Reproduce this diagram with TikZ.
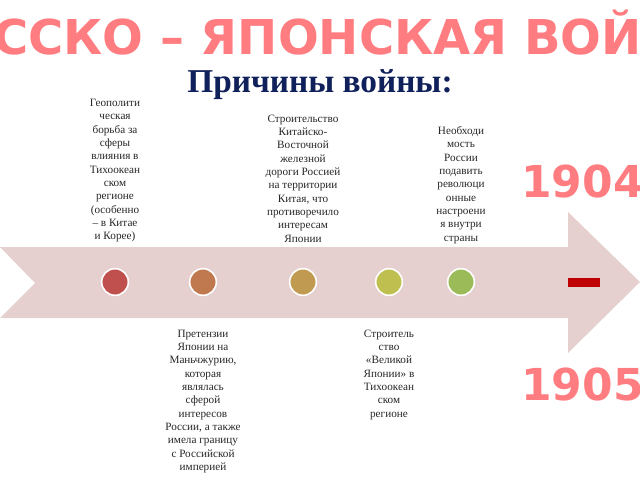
\documentclass[tikz,border=0pt]{standalone}
\usepackage{fontspec}
\setmainfont{Liberation Serif}
\newfontfamily\headfont{DejaVu Sans}
\usetikzlibrary{positioning}
\definecolor{arrowpink}{RGB}{230,208,207}
\definecolor{salmon}{RGB}{255,124,128}
\definecolor{navy}{RGB}{16,32,90}
\definecolor{darkred}{RGB}{192,0,0}
\definecolor{dotA}{RGB}{192,80,77}
\definecolor{dotB}{RGB}{192,120,78}
\definecolor{dotC}{RGB}{192,154,80}
\definecolor{dotD}{RGB}{191,191,80}
\definecolor{dotE}{RGB}{155,187,89}
\begin{document}
\begin{tikzpicture}[x=0.75pt, y=-0.75pt,
    dot/.style={circle, draw=white, line width=1.2pt, minimum size=20pt, inner sep=0pt},
    cause/.style={align=center, inner sep=0pt, text=black!85,
      font=\fontsize{8.4}{10}\selectfont},
    year/.style={anchor=west, inner sep=0pt, text=salmon,
      font=\headfont\bfseries\fontsize{33}{33}\selectfont}]
    \useasboundingbox (0,0) rectangle (640,480);
    \clip (0,0) rectangle (640,480);
    % title
    \node[text=salmon, font=\headfont\bfseries\fontsize{36}{36}\selectfont] (title) at (320,33) {РУССКО – ЯПОНСКАЯ ВОЙНА};
    \node[text=navy, font=\bfseries\fontsize{25}{25}\selectfont] (sub) at (320,85) {Причины войны:};
    % the arrow
    \fill[arrowpink] (0,247) -- (568,247) -- (568,212) -- (640,282) -- (568,353)
      -- (568,318) -- (0,318) -- (35,283) -- cycle;
    % points on the arrow
    \node[dot, fill=dotA] (c1) at (115,282) {};
    \node[dot, fill=dotB] (c2) at (203,282) {};
    \node[dot, fill=dotC] (c3) at (303,282) {};
    \node[dot, fill=dotD] (c4) at (389,282) {};
    \node[dot, fill=dotE] (c5) at (461,282) {};
    % causes
    \node[cause, above=19pt of c1] (t1) {Геополити\\ческая\\борьба за\\сферы\\влияния в\\Тихоокеан\\ском\\регионе\\(особенно\\– в Китае\\и Корее)};
    \node[cause, above=19pt of c3] (t3) {Строительство\\Китайско-\\Восточной\\железной\\дороги Россией\\на территории\\Китая, что\\противоречило\\интересам\\Японии};
    \node[cause, above=18pt of c5] (t5) {Необходи\\мость\\России\\подавить\\революци\\онные\\настроени\\я внутри\\страны};
    \node[cause, below=25pt of c2] (t2) {Претензии\\Японии на\\Маньчжурию,\\которая\\являлась\\сферой\\интересов\\России, а также\\имела границу\\с Российской\\империей};
    \node[cause, below=25pt of c4] (t4) {Строитель\\ство\\«Великой\\Японии» в\\Тихоокеан\\ском\\регионе};
    % years
    \node[year] (y1) at (521,181) {1904};
    \fill[darkred] (568,278) rectangle (600,287);
    \node[year] (y2) at (521,384) {1905};
\end{tikzpicture}
\end{document}
